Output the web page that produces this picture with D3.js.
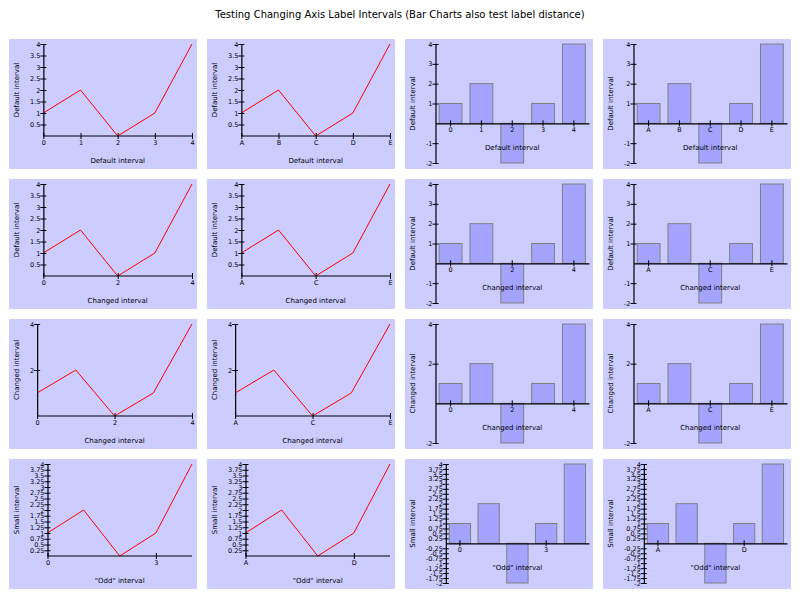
<!DOCTYPE html>
<html>
<head>
<meta charset="utf-8">
<script src="https://cdn.jsdelivr.net/npm/d3@7"></script>
<style>
  body { margin: 0; background: #fff; }
  svg { display: block; font-family: "DejaVu Sans", sans-serif; }
</style>
</head>
<body>
<div id="chart"></div>
<script>
// chart data
var titleText = "Testing Changing Axis Label Intervals (Bar Charts also test label distance)";
var numCategories = ["0", "1", "2", "3", "4"];
var letterCategories = ["A", "B", "C", "D", "E"];
var lineValues = [1, 2, 0, 1, 4];
var barValues = [1, 2, -2, 1, 4];
var rowXTitles = ["Default interval", "Changed interval", "Changed interval", "\"Odd\" interval"];
var rowYTitles = ["Default interval", "Default interval", "Changed interval", "Small interval"];
var rowXLabelSteps = [1, 2, 2, 3];
var rowLineYSteps = [0.5, 0.5, 2, 0.25];
var rowBarYSteps = [1, 1, 2, 0.25];

// layout
var W = 800, H = 600;
var panelW = 188, panelH = 130;
var pitchX = 198, pitchY = 140;
var originX = 9, originY = 39;

var svg = d3.select("#chart").append("svg")
  .attr("width", W)
  .attr("height", H);

svg.append("text")
  .attr("x", W / 2)
  .attr("y", 17.5)
  .attr("text-anchor", "middle")
  .attr("font-size", 10)
  .attr("fill", "#000")
  .text(titleText);

function stepValues(lo, hi, step) {
  return d3.range(lo, hi + step / 2, step)
    .map(function(v) { return Math.round(v * 100) / 100; })
    .filter(function(v) { return v !== 0; });
}

function measure(texts, size) {
  var widths = [];
  var g = svg.append("g");
  texts.forEach(function(t) {
    var el = g.append("text").attr("font-size", size).text(t);
    widths.push(el.node().getComputedTextLength());
  });
  g.remove();
  return d3.max(widths);
}

function styleAxis(ax, vertical) {
  ax.select(".domain").attr("stroke", "#000").attr("stroke-width", 1.2);
  ax.selectAll(".tick line").attr("stroke", "#000").attr("stroke-width", 1);
  if (vertical) ax.selectAll(".tick line").attr("x1", 3);
  else ax.selectAll(".tick line").attr("y1", -3);
  ax.selectAll(".tick text").attr("font-size", 6.5).attr("fill", "#000")
    .attr("font-family", "DejaVu Sans, sans-serif");
}

function drawPanel(row, col) {
  var isBar = col >= 2;
  var cats = (col % 2 === 0) ? numCategories : letterCategories;
  var values = isBar ? barValues : lineValues;
  var yStep = isBar ? rowBarYSteps[row] : rowLineYSteps[row];
  var yMin = isBar ? -2 : 0, yMax = 4;
  var yTicks = stepValues(yMin, yMax, yStep);
  var xStep = rowXLabelSteps[row];
  var xTicks = cats.filter(function(d, i) { return i % xStep === 0; });

  var g = svg.append("g")
    .attr("transform", "translate(" + (originX + col * pitchX) + "," + (originY + row * pitchY) + ")");

  g.append("rect")
    .attr("width", panelW)
    .attr("height", panelH)
    .attr("fill", "#ccccff");

  var left = 24 + measure(yTicks.map(String), 6.5);
  var right = isBar ? 184 : 183;
  var top = 5, bottom = isBar ? 124 : 97;

  var y = d3.scaleLinear().domain([yMin, yMax]).range([bottom, top]);
  var x;

  if (isBar) {
    x = d3.scaleBand().domain(cats).range([left, right]).paddingInner(0.26).paddingOuter(0.12);
    g.selectAll("rect.bar")
      .data(values)
      .enter()
      .append("rect")
      .attr("class", "bar")
      .attr("x", function(d, i) { return x(cats[i]); })
      .attr("width", x.bandwidth())
      .attr("y", function(d) { return y(Math.max(d, 0)); })
      .attr("height", function(d) { return Math.abs(y(d) - y(0)); })
      .attr("fill", "#a4a4ff")
      .attr("stroke", "#808080")
      .attr("stroke-width", 1);
  } else {
    x = d3.scalePoint().domain(cats).range([left, right]);
    var line = d3.line()
      .x(function(d, i) { return x(cats[i]); })
      .y(function(d) { return y(d); });
    g.append("path")
      .datum(values)
      .attr("d", line)
      .attr("fill", "none")
      .attr("stroke", "#ff0000")
      .attr("stroke-width", 1);
  }

  var axisY = y(0);

  var xAxis = g.append("g")
    .attr("transform", "translate(0," + axisY + ")")
    .call(d3.axisBottom(x).tickValues(xTicks).tickSize(3).tickSizeOuter(0).tickPadding(1));
  if (!isBar) xAxis.select(".domain").attr("d", "M" + left + ",0H" + right);
  styleAxis(xAxis, false);

  var yAxis = g.append("g")
    .attr("transform", "translate(" + left + ",0)")
    .call(d3.axisLeft(y).tickValues(yTicks).tickSize(3).tickSizeOuter(0).tickPadding(0)
      .tickFormat(function(d) { return String(d); }));
  styleAxis(yAxis, true);

  // axis titles
  g.append("text")
    .attr("x", (left + right) / 2)
    .attr("y", axisY + 26.5)
    .attr("text-anchor", "middle")
    .attr("font-size", 7)
    .attr("fill", "#000")
    .text(rowXTitles[row]);

  g.append("text")
    .attr("transform", "translate(9.5," + ((top + bottom) / 2) + ") rotate(-90)")
    .attr("text-anchor", "middle")
    .attr("font-size", 7)
    .attr("fill", "#000")
    .text(rowYTitles[row]);
}

for (var r = 0; r < 4; r++) {
  for (var c = 0; c < 4; c++) {
    drawPanel(r, c);
  }
}
</script>
</body>
</html>
